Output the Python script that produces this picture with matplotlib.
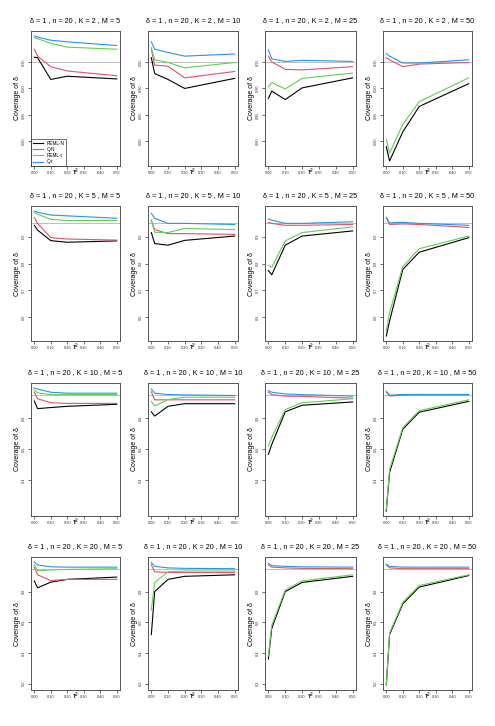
import matplotlib
matplotlib.use("Agg")
import matplotlib.pyplot as plt
import numpy as np

plt.rcParams['font.family'] = ['Liberation Sans', 'DejaVu Sans']

tau2 = [0.0, 0.02, 0.10, 0.20, 0.50]
K_values = [2, 5, 10, 20]
M_values = [5, 10, 25, 50]
methods = ["REML-N", "Q-N", "REML-t", "Q-t"]
colors = ["black", "#DF536B", "#61D04F", "#2297E6"]

# coverage per (K, M): rows are [REML-N, Q-N, REML-t, Q-t]
cov_K2_M5 = [[0.959, 0.958, 0.917, 0.923, 0.918],
             [0.974, 0.961, 0.941, 0.933, 0.924],
             [0.996, 0.994, 0.985, 0.978, 0.974],
             [0.999, 0.997, 0.991, 0.988, 0.981]]
cov_K2_M10 = [[0.958, 0.928, 0.917, 0.900, 0.919],
              [0.974, 0.944, 0.942, 0.920, 0.932],
              [0.977, 0.954, 0.949, 0.939, 0.949],
              [0.988, 0.974, 0.968, 0.961, 0.965]]
cov_K2_M25 = [[0.881, 0.895, 0.879, 0.901, 0.920],
              [0.961, 0.950, 0.936, 0.935, 0.941],
              [0.903, 0.911, 0.899, 0.919, 0.929],
              [0.973, 0.956, 0.951, 0.953, 0.951]]
cov_K2_M50 = [[0.790, 0.763, 0.818, 0.866, 0.909],
              [0.958, 0.954, 0.941, 0.946, 0.949],
              [0.804, 0.778, 0.832, 0.875, 0.920],
              [0.966, 0.961, 0.948, 0.948, 0.954]]

cov_K5_M5 = [[0.942, 0.924, 0.885, 0.879, 0.884],
             [0.971, 0.949, 0.896, 0.891, 0.887],
             [0.989, 0.983, 0.964, 0.960, 0.960],
             [0.995, 0.990, 0.980, 0.977, 0.968]]
cov_K5_M10 = [[0.915, 0.874, 0.868, 0.886, 0.902],
              [0.961, 0.926, 0.911, 0.911, 0.908],
              [0.961, 0.916, 0.915, 0.930, 0.926],
              [0.986, 0.968, 0.949, 0.949, 0.945]]
cov_K5_M25 = [[0.774, 0.758, 0.868, 0.902, 0.921],
              [0.953, 0.949, 0.942, 0.942, 0.945],
              [0.793, 0.786, 0.884, 0.915, 0.936],
              [0.965, 0.961, 0.949, 0.949, 0.955]]
cov_K5_M50 = [[0.531, 0.587, 0.778, 0.842, 0.896],
              [0.971, 0.945, 0.947, 0.945, 0.934],
              [0.549, 0.618, 0.789, 0.855, 0.902],
              [0.971, 0.951, 0.953, 0.949, 0.942]]

cov_K10_M5 = [[0.912, 0.863, 0.870, 0.878, 0.891],
              [0.969, 0.927, 0.901, 0.897, 0.897],
              [0.984, 0.965, 0.954, 0.954, 0.954],
              [0.997, 0.990, 0.969, 0.963, 0.963]]
cov_K10_M10 = [[0.842, 0.815, 0.878, 0.895, 0.895],
               [0.973, 0.920, 0.920, 0.920, 0.920],
               [0.910, 0.880, 0.922, 0.937, 0.937],
               [0.990, 0.963, 0.954, 0.952, 0.948]]
cov_K10_M25 = [[0.567, 0.631, 0.842, 0.885, 0.906],
               [0.969, 0.954, 0.944, 0.942, 0.931],
               [0.620, 0.677, 0.857, 0.901, 0.927],
               [0.980, 0.969, 0.958, 0.954, 0.944]]
cov_K10_M50 = [[0.200, 0.450, 0.730, 0.840, 0.910],
               [0.970, 0.945, 0.950, 0.952, 0.952],
               [0.210, 0.470, 0.740, 0.850, 0.920],
               [0.975, 0.950, 0.955, 0.955, 0.955]]

cov_K20_M5 = [[0.870, 0.825, 0.862, 0.880, 0.895],
              [0.960, 0.910, 0.872, 0.880, 0.880],
              [0.975, 0.936, 0.942, 0.945, 0.950],
              [0.994, 0.974, 0.962, 0.960, 0.960]]
cov_K20_M10 = [[0.520, 0.800, 0.880, 0.900, 0.910],
               [0.975, 0.930, 0.925, 0.925, 0.925],
               [0.680, 0.860, 0.930, 0.935, 0.935],
               [0.990, 0.965, 0.955, 0.952, 0.950]]
cov_K20_M25 = [[0.360, 0.560, 0.800, 0.860, 0.900],
               [0.975, 0.960, 0.955, 0.952, 0.950],
               [0.380, 0.580, 0.810, 0.870, 0.910],
               [0.985, 0.970, 0.965, 0.962, 0.960]]
cov_K20_M50 = [[0.190, 0.520, 0.720, 0.830, 0.905],
               [0.975, 0.955, 0.950, 0.950, 0.950],
               [0.190, 0.530, 0.730, 0.840, 0.910],
               [0.980, 0.965, 0.960, 0.960, 0.960]]

coverage = [[cov_K2_M5, cov_K2_M10, cov_K2_M25, cov_K2_M50],
            [cov_K5_M5, cov_K5_M10, cov_K5_M25, cov_K5_M50],
            [cov_K10_M5, cov_K10_M10, cov_K10_M25, cov_K10_M50],
            [cov_K20_M5, cov_K20_M10, cov_K20_M25, cov_K20_M50]]

row_yticks = [[0.80, 0.85, 0.90, 0.95],
              [0.6, 0.7, 0.8, 0.9],
              [0.4, 0.6, 0.8],
              [0.2, 0.4, 0.6, 0.8]]
xticks = [0.0, 0.1, 0.2, 0.3, 0.4, 0.5]
xticklabels = ["0.00", "0.10", "0.20", "0.30", "0.40", "0.50"]

W, H = 495, 726
fig = plt.figure(figsize=(W / 100, H / 100), dpi=100)

col_px = [(31, 120), (148, 238), (265, 356), (383, 472)]
row_px = [(31, 166), (206, 341), (383, 516), (557, 690)]

frame_col = "#555555"
for i, K in enumerate(K_values):
    vals_row = np.array([coverage[i][j] for j in range(4)])
    lo, hi = vals_row.min(), vals_row.max()
    r = hi - lo
    ylim = (lo - 0.04 * r, hi + 0.04 * r)
    for j, M in enumerate(M_values):
        x0, x1 = col_px[j]
        y0, y1 = row_px[i]
        ax = fig.add_axes([x0 / W, 1 - y1 / H, (x1 - x0) / W, (y1 - y0) / H])
        ax.axhline(0.95, color="#BEBEBE", lw=0.7, zorder=1)
        for k in range(4):
            ax.plot(tau2, coverage[i][j][k], color=colors[k], lw=0.8,
                    label=methods[k], zorder=2)
        ax.set_xlim(-0.02, 0.52)
        ax.set_ylim(*ylim)
        ax.set_xticks(xticks)
        ax.set_xticklabels(xticklabels)
        ax.set_yticks(row_yticks[i])
        ax.set_yticklabels([("%.2f" % t if i == 0 else "%.1f" % t) for t in row_yticks[i]],
                           rotation=90, va="center")
        ax.tick_params(axis="both", length=2, width=0.5, pad=1.5,
                       labelsize=2.8, colors="#333333")
        for s in ax.spines.values():
            s.set_color(frame_col)
            s.set_linewidth(0.7)
        ax.set_title(f"δ = 1 , n = 20 , K = {K} , M = {M}", fontsize=5.2, pad=6.5)
        ax.set_ylabel("Coverage of δ", fontsize=5, labelpad=0.5)
        ax.set_xlabel("τ²", fontsize=5.5, labelpad=-4)
        if i == 0 and j == 0:
            leg = ax.legend(loc="lower left", fontsize=3.3, frameon=True,
                            handlelength=2.2, borderpad=0.3, labelspacing=0.25,
                            fancybox=False, edgecolor="black", borderaxespad=0.1)
            leg.get_frame().set_linewidth(0.5)

fig.savefig("out.png", dpi=100)
